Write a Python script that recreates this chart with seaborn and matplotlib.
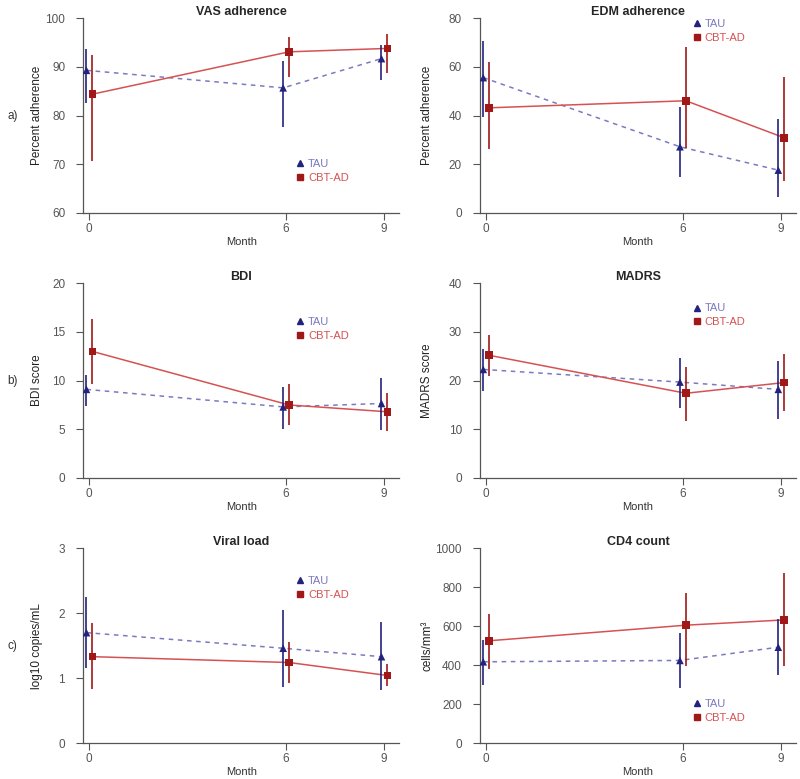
import pandas as pd
import numpy as np
import matplotlib
matplotlib.use("Agg")
import matplotlib.pyplot as plt
import seaborn as sns
from matplotlib.lines import Line2D

months = [0, 6, 9]
groups = ["TAU", "CBT-AD"]

# mean, lower, upper for each panel and group
vas_tau = [89.3, 85.7, 91.7]
vas_tau_lo = [82.6, 77.6, 87.3]
vas_tau_hi = [93.6, 91.2, 94.5]
vas_cbt = [84.4, 93.1, 93.8]
vas_cbt_lo = [70.7, 88.0, 88.8]
vas_cbt_hi = [92.5, 96.1, 96.8]

edm_tau = [55.6, 27.2, 17.6]
edm_tau_lo = [39.3, 14.8, 6.6]
edm_tau_hi = [70.7, 43.6, 38.8]
edm_cbt = [43.2, 46.1, 30.9]
edm_cbt_lo = [26.2, 26.5, 13.1]
edm_cbt_hi = [61.9, 68.1, 56.0]

bdi_tau = [9.1, 7.3, 7.65]
bdi_tau_lo = [7.4, 5.0, 4.9]
bdi_tau_hi = [10.6, 9.3, 10.3]
bdi_cbt = [13.0, 7.5, 6.8]
bdi_cbt_lo = [9.7, 5.4, 4.8]
bdi_cbt_hi = [16.3, 9.7, 8.7]

madrs_tau = [22.3, 19.7, 18.2]
madrs_tau_lo = [17.8, 14.4, 12.2]
madrs_tau_hi = [26.4, 24.7, 24.0]
madrs_cbt = [25.2, 17.4, 19.6]
madrs_cbt_lo = [20.9, 11.7, 13.7]
madrs_cbt_hi = [29.3, 22.9, 25.5]

vl_tau = [1.70, 1.46, 1.33]
vl_tau_lo = [1.16, 0.87, 0.81]
vl_tau_hi = [2.25, 2.05, 1.87]
vl_cbt = [1.33, 1.24, 1.04]
vl_cbt_lo = [0.83, 0.92, 0.88]
vl_cbt_hi = [1.85, 1.55, 1.21]

cd4_tau = [417, 424, 492]
cd4_tau_lo = [299, 282, 347]
cd4_tau_hi = [530, 564, 636]
cd4_cbt = [525, 605, 632]
cd4_cbt_lo = [379, 393, 393]
cd4_cbt_hi = [663, 769, 872]

titles = ["VAS adherence", "EDM adherence", "BDI", "MADRS", "Viral load", "CD4 count"]
ylabels = ["Percent adherence", "Percent adherence", "BDI score", "MADRS score",
           "log10 copies/mL", "cells/mm\u00b3"]
yticks = [[60, 70, 80, 90, 100], [0, 20, 40, 60, 80], [0, 5, 10, 15, 20],
          [0, 10, 20, 30, 40], [0, 1, 2, 3], [0, 200, 400, 600, 800, 1000]]
row_labels = ["a)", "b)", "c)"]

panels = [
    (vas_tau, vas_tau_lo, vas_tau_hi, vas_cbt, vas_cbt_lo, vas_cbt_hi),
    (edm_tau, edm_tau_lo, edm_tau_hi, edm_cbt, edm_cbt_lo, edm_cbt_hi),
    (bdi_tau, bdi_tau_lo, bdi_tau_hi, bdi_cbt, bdi_cbt_lo, bdi_cbt_hi),
    (madrs_tau, madrs_tau_lo, madrs_tau_hi, madrs_cbt, madrs_cbt_lo, madrs_cbt_hi),
    (vl_tau, vl_tau_lo, vl_tau_hi, vl_cbt, vl_cbt_lo, vl_cbt_hi),
    (cd4_tau, cd4_tau_lo, cd4_tau_hi, cd4_cbt, cd4_cbt_lo, cd4_cbt_hi),
]

# legend anchor (axes fraction) for each panel
legend_pos = [(0.655, 0.215), (0.655, 0.935), (0.655, 0.765), (0.655, 0.835), (0.655, 0.795), (0.655, 0.165)]

sns.set_style("ticks")
plt.rcParams["font.family"] = ["Liberation Sans", "DejaVu Sans"]

tau_mark = "#23237e"
tau_line = "#7a7ac0"
cbt_mark = "#a01818"
cbt_line = "#d65252"
axis_col = "#555555"

fig = plt.figure(figsize=(8, 7.79), dpi=100)
lefts = [0.104, 0.600]
bottoms = [0.7266, 0.3864, 0.0462]
ylabel_x = [-0.127, -0.148]

for i, p in enumerate(panels):
    r, c = divmod(i, 2)
    ax = fig.add_axes([lefts[c], bottoms[r], 0.395, 0.250])
    df = pd.DataFrame({
        "month": months * 2,
        "group": [groups[0]] * 3 + [groups[1]] * 3,
        "value": list(p[0]) + list(p[3]),
        "lo": list(p[1]) + list(p[4]),
        "hi": list(p[2]) + list(p[5]),
    })
    df["x"] = df["month"] + np.where(df["group"] == "TAU", -0.08, 0.1)

    sns.lineplot(data=df, x="x", y="value", hue="group", style="group",
                 palette={"TAU": tau_line, "CBT-AD": cbt_line},
                 dashes={"TAU": (3, 3), "CBT-AD": ""}, linewidth=1.1,
                 legend=False, ax=ax)
    for g, col in [("TAU", tau_mark), ("CBT-AD", cbt_mark)]:
        sub = df[df["group"] == g]
        ax.vlines(sub["x"], sub["lo"], sub["hi"], color=col, linewidth=1.2, zorder=3)
    sns.scatterplot(data=df, x="x", y="value", hue="group", style="group",
                    palette={"TAU": tau_mark, "CBT-AD": cbt_mark},
                    markers={"TAU": "^", "CBT-AD": "s"}, s=30, linewidth=0,
                    legend=False, ax=ax, zorder=4)

    ax.set_xlim(-0.18, 9.46)
    ax.set_ylim(yticks[i][0], yticks[i][-1])
    ax.set_xticks(months)
    ax.set_yticks(yticks[i])
    ax.set_xlabel("Month", fontsize=8, color="#333333", labelpad=1)
    ax.set_ylabel(ylabels[i], fontsize=8.5, color="#222222")
    ax.yaxis.set_label_coords(ylabel_x[c], 0.5)
    ax.set_title(titles[i], fontsize=9, fontweight="bold", pad=2)
    ax.tick_params(labelsize=8.5, colors=axis_col, length=5, width=0.8)
    ax.tick_params(axis="x", pad=2.5)
    ax.tick_params(axis="y", pad=8)
    for s in ["left", "bottom"]:
        ax.spines[s].set_color(axis_col)
        ax.spines[s].set_linewidth(0.9)
    sns.despine(ax=ax)

    handles = [Line2D([], [], marker="^", color=tau_mark, linestyle="", markersize=5),
               Line2D([], [], marker="s", color=cbt_mark, linestyle="", markersize=5)]
    ax.legend(handles, groups, loc="center left", bbox_to_anchor=legend_pos[i],
              frameon=False, fontsize=8, handlelength=0.8, handletextpad=0.3,
              labelspacing=0.35, borderpad=0, labelcolor=[tau_line, cbt_line])

    if c == 0:
        fig.text(0.009, bottoms[r] + 0.125, row_labels[r], fontsize=8.5,
                 color="#333333", va="center")

plt.savefig("out.png", dpi=100)
